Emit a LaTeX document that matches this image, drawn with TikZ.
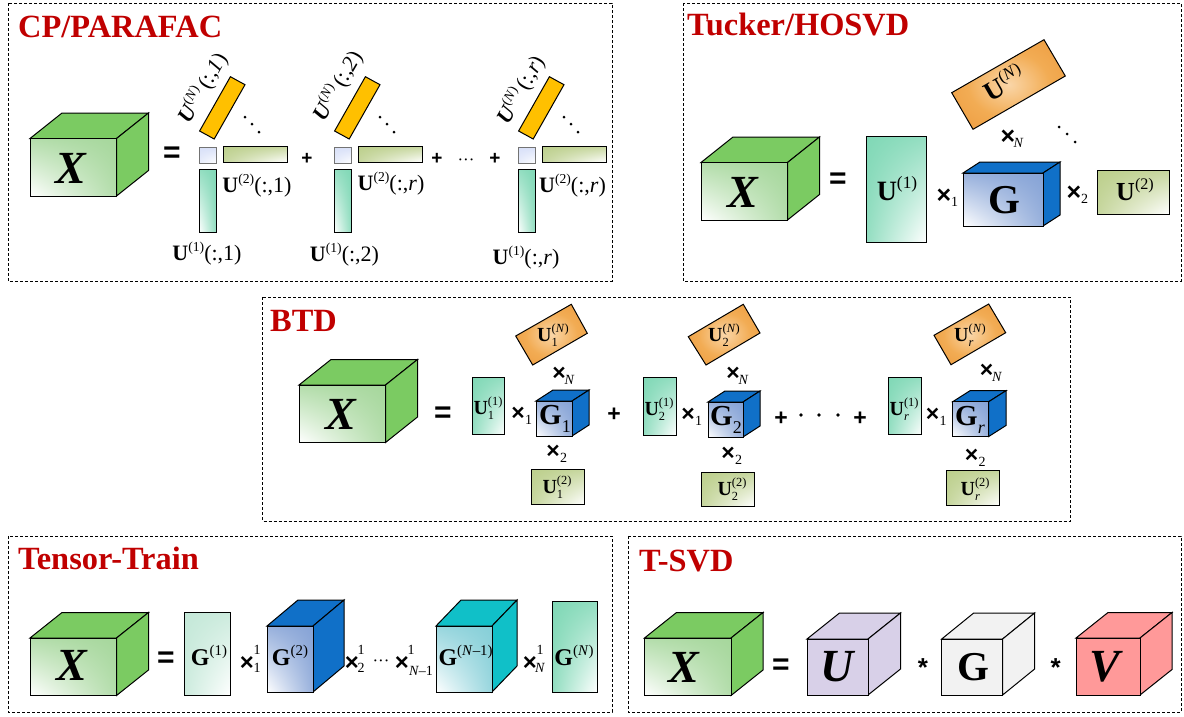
\documentclass[tikz,border=0pt]{standalone}
\usepackage{fontspec}
\setmainfont{Liberation Serif}
\newfontfamily\symf{Liberation Sans}
\usetikzlibrary{shadings}
\definecolor{titlered}{HTML}{C00000}
\definecolor{xside}{HTML}{7BCB62}
\definecolor{xfront}{HTML}{A6D79C}
\definecolor{teal}{HTML}{80D8B6}
\definecolor{lteal}{HTML}{C4E8D8}
\definecolor{olive}{HTML}{BCCF8C}
\definecolor{bside}{HTML}{1070C8}
\definecolor{bfront}{HTML}{86A3D6}
\definecolor{cside}{HTML}{10C0C8}
\definecolor{cfront}{HTML}{86CFD8}
\definecolor{yel}{HTML}{FFC000}
\definecolor{lav}{HTML}{D8E0F8}
\definecolor{purp}{HTML}{D8D0E8}
\definecolor{lgray}{HTML}{F2F2F2}
\definecolor{pink}{HTML}{FF9999}
\definecolor{oa}{HTML}{FAD6A8}
\definecolor{ob}{HTML}{F2AC54}
\definecolor{oc}{HTML}{EE9E42}
\definecolor{od}{HTML}{B8701E}
\pgfdeclareradialshading{orng}{\pgfpoint{0bp}{0bp}}{%
  color(0bp)=(oa);
  color(18bp)=(ob);
  color(32bp)=(oc);
  color(46bp)=(od);
  color(50bp)=(od)}
\makeatletter
\newcommand\ssz{\fontsize{\strip@pt\dimexpr.62em\relax}{0}\selectfont}
\makeatother
% base, sub, sup
\newcommand\Ix[3]{\textbf{#1}{\setbox0\hbox{\raisebox{.42em}{\ssz #3}}\setbox1\hbox{\raisebox{-.25em}{\ssz #2}}\ifdim\wd0>\wd1 \rlap{\box1}\box0\else\rlap{\box0}\box1\fi}}
\newcount\nodecnt
\tikzset{
  panel/.style={draw=black,line width=0.7pt,dash pattern=on 3pt off 2pt},
  face/.style={draw=black,line width=1pt,line join=miter},
  gbl/.style={face,shading=bilinear interpolation,lower left=white,lower right=#1!85,upper left=#1!85,upper right=#1},
  gbr/.style={face,shading=bilinear interpolation,lower right=white,lower left=#1!85,upper left=#1,upper right=#1!85},
  title/.style={anchor=base west,text=titlered,font=\fontsize{32.4}{33}\selectfont\bfseries,inner sep=0pt},
  bigx/.style={font=\fontsize{46}{46}\selectfont\bfseries\itshape,inner sep=0pt},
  bigg/.style={font=\fontsize{41}{41}\selectfont\bfseries,inner sep=0pt},
  lab/.style={font=\fontsize{#1}{#1}\selectfont,inner sep=0pt},
  opsym/.style={font=\fontsize{#1}{#1}\selectfont\symf\bfseries,inner sep=0pt},
  eqs/.style={font=\fontsize{30}{30}\selectfont\symf\bfseries,inner sep=0pt},
  sb/.style={font=\fontsize{14}{14}\selectfont,inner sep=0pt},
}
\newcommand\T[4]{\global\advance\nodecnt by 1 \node[#3] (n\the\nodecnt) at (#1,#2) {#4};}
% L T R B dx dy sidecolor front-style
\newcommand\Cube[8]{%
  \filldraw[face,fill=#7] (#1,#2) -- (#1+#5,#2-#6) -- (#3+#5,#2-#6) -- (#3,#2) -- cycle;
  \filldraw[face,fill=#7] (#3,#2) -- (#3+#5,#2-#6) -- (#3+#5,#4-#6) -- (#3,#4) -- cycle;
  \shadedraw[#8] (#1,#2) rectangle (#3,#4);}
\newcommand\Rc[5]{\shadedraw[#5] (#1,#2) rectangle (#3,#4);}
\newcommand\Orng[8]{\shadedraw[face,shading=orng] (#1,#2) -- (#3,#4) -- (#5,#6) -- (#7,#8) -- cycle;}
\newcommand\Xcube[2]{\Cube{#1}{#2}{#1+86.5}{#2+57.5}{32}{25.5}{xside}{gbl=xfront}}
\newcommand\Mul[5]{\T{#1}{#2+2}{opsym=#5}{×}\T{#1+10.5}{#2+8}{sb}{#3}}
\newcommand\CPcol[8]{% x offset, then labels
  \Rc{199+#1}{147}{216+#1}{163}{draw=black!55,line width=1pt,shading=bilinear interpolation,upper left=lav,upper right=lav,lower left=lav!60,lower right=white}
  \Rc{223+#1}{146}{287+#1}{162}{gbr=olive}
  \Rc{199+#1}{169}{216+#1}{232}{gbl=teal}
  \filldraw[face,fill=yel] (230.4+#1,76.7) -- (245+#1,84.7) -- (214.2+#1,139) -- (199.6+#1,131) -- cycle;
  \foreach \dx/\dy in {245/117,252/124,259/132}{\fill (\dx+#1,\dy) circle (1.5pt);}
  \T{#2}{#3}{lab=22}{\Ix{U}{}{(2)}(:,#4)}
  \T{#5}{#6}{lab=22}{\Ix{U}{}{(1)}(:,#7)}
}
\begin{document}
\begin{tikzpicture}[x=1pt,y=-1pt]
\useasboundingbox (0,0) rectangle (1184,716);
% panels
\draw[panel] (8,3) rectangle (612,281);
\draw[panel] (683,3) rectangle (1181,281);
\draw[panel] (262.5,297) rectangle (1070,521);
\draw[panel] (8,536) rectangle (612,712);
\draw[panel] (628,536) rectangle (1181,712);
\T{18}{37}{title}{CP/PARAFAC}
\T{687}{35}{title}{Tucker/HOSVD}
\T{270}{331}{title}{BTD}
\T{18}{569}{title}{Tensor-Train}
\T{639}{571}{title}{T-SVD}
% CP
\Xcube{30}{138.5}
\T{71}{168}{bigx}{X}
\T{172}{155}{eqs}{=}
\CPcol{0}{257}{186}{1}{207}{254}{1}{}
\CPcol{135}{391}{184}{\textit{r}}{344.5}{255}{2}{}
\CPcol{319}{572.5}{186}{\textit{r}}{526}{258}{\textit{r}}{}
\T{203}{88}{lab=22,rotate=60}{\Ix{\textit{U}}{}{(\textit{N})}\,(:,\textit{1})}
\T{338}{86}{lab=22,rotate=60}{\Ix{\textit{U}}{}{(\textit{N})}\,(:,\textit{2})}
\T{521}{90}{lab=22,rotate=60}{\Ix{\textit{U}}{}{(\textit{N})}\,(:,\textit{r})}
\T{307}{159}{opsym=19}{+}
\T{437}{159}{opsym=19}{+}
\T{495}{159}{opsym=19}{+}
\T{466}{162}{lab=17}{···}
% Tucker
\Xcube{701}{162.5}
\T{743}{192}{bigx}{X}
\T{838}{181}{eqs}{=}
\Rc{866}{136}{926}{242}{gbr=teal}
\T{897}{192}{lab=28}{\Ix{U}{}{(1)}}
\Mul{944}{194}{1}{}{25}
\Cube{963}{173}{1043}{226}{17}{11}{bside}{gbl=bfront}
\T{1004}{200}{bigg}{G}
\Mul{1008}{135}{\textit{N}}{}{25}
\Mul{1074}{191}{2}{}{25}
\Rc{1097}{170}{1169}{214}{gbr=olive}
\T{1135}{193}{lab=26}{\Ix{U}{}{(2)}}
\Orng{951.7}{92.7}{1044}{39.7}{1065.3}{76}{973}{129.3}
\T{1005}{85}{lab=27,rotate=30}{\Ix{U}{}{(\textit{N})}}
\foreach \px/\py in {1059/127,1067/134,1075/142}{\fill (\px,\py) circle (1.5pt);}
% BTD
\Xcube{299}{385}
\T{341}{414}{bigx}{X}
\T{443}{415}{eqs}{=}
\Rc{472}{377}{504.5}{434}{gbr=teal}
\T{488}{408}{lab=20}{\Ix{U}{1}{(1)}}
\Mul{518}{412}{1}{}{23}
\Cube{536}{401}{572}{436}{17}{11}{bside}{gbl=bfront}
\T{555}{419}{lab=29}{\Ix{G}{1}{}}
\Orng{515.7}{336}{571.3}{304.3}{587.3}{333.3}{532.7}{365}
\T{553}{335}{lab=20}{\Ix{U}{1}{(\textit{N})}}
\Mul{559}{372}{\textit{N}}{}{23}
\Mul{553}{450}{2}{}{23}
\Rc{531}{469}{584}{504}{gbr=olive}
\T{557}{487}{lab=20}{\Ix{U}{1}{(2)}}
\T{614}{415}{opsym=23}{+}
\Rc{643}{377}{676}{435}{gbr=teal}
\T{659}{409}{lab=20}{\Ix{U}{2}{(1)}}
\Mul{688}{413}{1}{}{23}
\Cube{708}{402}{743}{437}{17}{11}{bside}{gbl=bfront}
\T{726}{420}{lab=29}{\Ix{G}{2}{}}
\Orng{688.3}{336.7}{743.3}{304.3}{760}{333}{706}{365}
\T{724}{335}{lab=20}{\Ix{U}{2}{(\textit{N})}}
\Mul{733}{372}{\textit{N}}{}{23}
\Mul{728}{452}{2}{}{23}
\Rc{701}{472}{754}{506}{gbr=olive}
\T{732}{489}{lab=20}{\Ix{U}{2}{(2)}}
\T{781}{419}{opsym=23}{+}
\foreach \px in {801,819,838}{\fill (\px,415) circle (1.9pt);}
\T{860}{419}{opsym=23}{+}
\Rc{888.3}{377}{921.7}{434.5}{gbr=teal}
\T{904}{409}{lab=20}{\Ix{U}{\textit{r}}{(1)}}
\Mul{932.7}{413}{1}{}{23}
\Cube{952.7}{401.7}{988.7}{436.5}{17.3}{11}{bside}{gbl=bfront}
\T{970}{420}{lab=29}{\Ix{G}{\textit{r}}{}}
\Orng{934}{335.3}{988.7}{304}{1005.7}{332.7}{951}{364.7}
\T{970}{335}{lab=20}{\Ix{U}{\textit{r}}{(\textit{N})}}
\Mul{986.7}{369}{\textit{N}}{}{23}
\Mul{971.7}{454}{2}{}{23}
\Rc{946}{470.7}{999.7}{505.7}{gbr=olive}
\T{975}{489}{lab=20}{\Ix{U}{\textit{r}}{(2)}}
% Tensor-Train
\Xcube{30}{638}
\T{72}{665}{bigx}{X}
\T{166}{660}{eqs}{=}
\Rc{184}{612.7}{230.5}{695}{gbr=lteal}
\T{209}{658}{lab=24}{\Ix{G}{}{(1)}}
\T{247}{663}{opsym=24}{×}\T{257}{650}{sb}{1}\T{257}{668}{sb}{1}
\Cube{267}{626}{313}{692}{31}{26}{bside}{gbl=bfront}
\T{290}{658}{lab=24}{\Ix{G}{}{(2)}}
\T{352}{663}{opsym=24}{×}\T{361}{650}{sb}{1}\T{361}{668}{sb}{2}
\T{381}{663}{lab=17}{···}
\T{402}{663}{opsym=24}{×}\T{411}{650}{sb}{1}\T{421}{671}{sb}{\textit{N}–1}
\Cube{436}{626}{492}{692}{25}{26}{cside}{gbl=cfront}
\T{465.6}{658}{lab=24}{\Ix{G}{}{(\textit{N}–1)}}
\T{530}{663}{opsym=24}{×}\T{540}{650}{sb}{1}\T{540}{668}{sb}{\textit{N}}
\Rc{552.6}{601.7}{597}{692}{gbr=teal}
\T{574}{658}{lab=24}{\Ix{G}{}{(\textit{N})}}
% T-SVD
\Xcube{644.5}{638}
\T{684}{667}{bigx}{X}
\T{781}{667}{eqs}{=}
\Cube{807}{639}{868}{695}{32.5}{26}{purp}{face,shading=axis,left color=purp,right color=purp}
\T{837}{667}{bigx}{U}
\T{923}{668}{opsym=26}{*}
\Cube{941.7}{639}{1002.6}{695}{32}{26}{lgray}{face,shading=axis,left color=lgray,right color=lgray}
\T{973}{667}{bigg}{G}
\T{1055.7}{668}{opsym=26}{*}
\Cube{1076}{638}{1140}{695}{32}{25.5}{pink}{face,shading=axis,left color=pink,right color=pink}
\T{1105}{667}{bigx}{V}
\end{tikzpicture}
\end{document}
